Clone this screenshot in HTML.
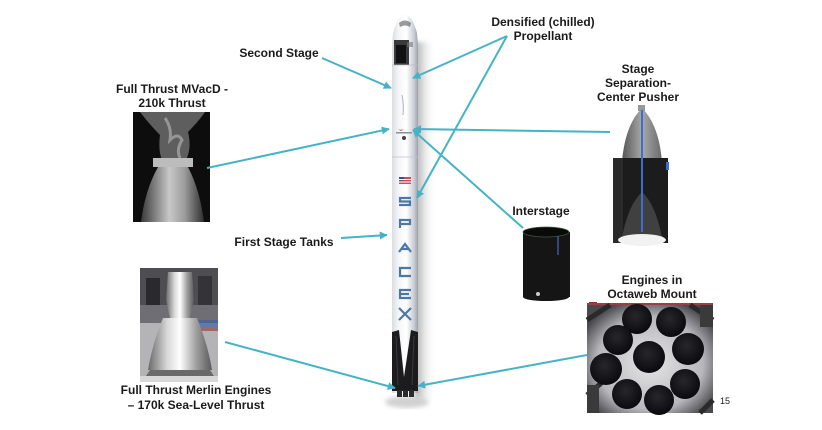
<!DOCTYPE html>
<html><head><meta charset="utf-8"><style>
html,body{margin:0;padding:0;background:#fff;}
svg{display:block;}
text{font-family:"Liberation Sans",Arial,sans-serif;font-weight:bold;fill:#1a1a1a;font-size:12px;}
</style></head><body>
<svg width="822" height="430" viewBox="0 0 822 430" xmlns="http://www.w3.org/2000/svg">
<defs>
<linearGradient id="body" x1="0" x2="1" y1="0" y2="0">
<stop offset="0" stop-color="#d9dce2"/><stop offset="0.25" stop-color="#f4f5f7"/><stop offset="0.55" stop-color="#ffffff"/><stop offset="0.85" stop-color="#c9ccd3"/><stop offset="1" stop-color="#9da1aa"/>
</linearGradient>
<linearGradient id="shadow" x1="0" x2="1" y1="0" y2="0">
<stop offset="0" stop-color="#999"/><stop offset="1" stop-color="#ffffff" stop-opacity="0"/>
</linearGradient>
<filter id="blur" x="-50%" y="-10%" width="200%" height="120%"><feGaussianBlur stdDeviation="2.5"/></filter>
<linearGradient id="nozzle" x1="0" x2="1" y1="0" y2="0">
<stop offset="0" stop-color="#3a3a3a"/><stop offset="0.45" stop-color="#c8c8c8"/><stop offset="0.7" stop-color="#9a9a9a"/><stop offset="1" stop-color="#2e2e2e"/>
</linearGradient>
<linearGradient id="cone" x1="0" x2="1" y1="0" y2="0">
<stop offset="0" stop-color="#555"/><stop offset="0.5" stop-color="#a9a9a9"/><stop offset="1" stop-color="#6a6a6a"/>
</linearGradient>
<linearGradient id="merlin" x1="0" x2="1" y1="0" y2="0">
<stop offset="0" stop-color="#6a6a6a"/><stop offset="0.3" stop-color="#d8d8d8"/><stop offset="0.5" stop-color="#ffffff"/><stop offset="0.75" stop-color="#a0a0a0"/><stop offset="1" stop-color="#5a5a5a"/>
</linearGradient>
<radialGradient id="eng" cx="0.45" cy="0.4" r="0.6">
<stop offset="0" stop-color="#26262c"/><stop offset="1" stop-color="#0a0a0e"/>
</radialGradient>
<radialGradient id="octbg" cx="0.5" cy="0.55" r="0.6">
<stop offset="0" stop-color="#e6e6e8"/><stop offset="0.7" stop-color="#b8b8bc"/><stop offset="1" stop-color="#4a4a4e"/>
</radialGradient>
<marker id="ah" viewBox="0 0 10 10" refX="9" refY="5" markerWidth="4" markerHeight="4" orient="auto">
<path d="M0,0 L10,5 L0,10 Z" fill="#45b3c6"/>
</marker>
</defs>

<!-- Rocket shadow -->
<rect x="415" y="42" width="20" height="356" fill="url(#shadow)" opacity="0.9" filter="url(#blur)"/>
<ellipse cx="407" cy="402" rx="22" ry="6" fill="#bdbdbd" opacity="0.7" filter="url(#blur)"/>

<!-- Rocket body -->
<rect x="392" y="43" width="26" height="350" fill="url(#body)"/>
<path d="M392,45 L393,33 Q398,15 405,14 Q412,15 417,33 L418,45 Z" fill="url(#body)"/>
<path d="M399,23 Q405,18 411,23 L410,27 Q405,24 400,27 Z" fill="#3a3a3a" opacity="0.5"/>
<rect x="394" y="40" width="15" height="25" fill="#3a3a3c"/>
<rect x="396" y="45" width="10" height="18" fill="#111"/>
<rect x="407" y="42" width="6" height="5" fill="#777" opacity="0.6"/>
<line x1="392" y1="65" x2="418" y2="65" stroke="#b8bcc4" stroke-width="0.8"/>
<line x1="392" y1="157" x2="418" y2="157" stroke="#c0c3ca" stroke-width="0.8"/>
<path d="M402,95 Q404,105 403,115" stroke="#b0b4bc" stroke-width="1" fill="none"/>
<path d="M396,128 Q400,131 404,129 L401,131 Z" fill="#d04050"/>
<rect x="396" y="132" width="16" height="1.5" fill="#8a8f9a"/>
<circle cx="404" cy="138" r="2" fill="#444"/>
<rect x="399" y="177" width="12" height="7" fill="#c4505a"/>
<rect x="399" y="177" width="5" height="3.5" fill="#3a4a8a"/>
<rect x="399" y="179" width="12" height="1" fill="#fff"/>
<rect x="399" y="181.5" width="12" height="1" fill="#fff"/>
<g fill="none" stroke="#4a78a8" stroke-width="2.2">
<path d="M411,198 L400,198 L400,201.5 L410,201.5 L410,205 L399,205"/>
<path d="M400,228 L400,220 L410,220 L410,224 L401,224"/>
<path d="M399,252 L405,244 L411,252 M402,249 L409,249"/>
<path d="M411,268 L400,268 L400,276 L411,276"/>
<path d="M411,290 L400,290 L400,298 L411,298 M400,294 L409,294"/>
<path d="M399,308 L411,320 M411,308 L399,320"/>
</g>
<path d="M392,332 L399,330 L404,377 L411,330 L418,332 L418,391 L392,391 Z" fill="#1c1c1e"/>
<path d="M396,336 L398,385" stroke="#3a3a3e" stroke-width="1"/>
<path d="M414,336 L412,385" stroke="#3a3a3e" stroke-width="1"/>
<rect x="397" y="390" width="5" height="7" fill="#2a2a2a"/>
<rect x="403" y="390" width="5" height="7" fill="#2a2a2a"/>
<rect x="409" y="390" width="5" height="7" fill="#2a2a2a"/>

<!-- MVacD image -->
<rect x="133" y="112" width="77" height="110" fill="#0d0d0d"/>
<path d="M140,112 Q150,125 160,135 Q158,150 162,160 L186,160 Q192,148 188,132 Q198,122 205,112 Z" fill="#7a7a7a" opacity="0.75"/>
<path d="M165,118 Q172,128 170,140 Q178,132 182,140 Q176,150 180,158" stroke="#bbb" stroke-width="3" fill="none" opacity="0.6"/>
<rect x="153" y="158" width="40" height="9" fill="#bcbcbc"/>
<path d="M158,167 L188,167 Q200,190 204,222 L141,222 Q145,190 158,167 Z" fill="url(#nozzle)"/>

<!-- Stage separation image -->
<path d="M642,108 Q625,125 622,162 L662,162 Q659,125 642,108 Z" fill="url(#cone)"/>
<rect x="638" y="105" width="7" height="6" fill="#999"/>
<rect x="613" y="158" width="55" height="85" fill="#1c1c1c"/>
<rect x="613" y="158" width="10" height="85" fill="#2a2a2a"/>
<path d="M622,238 Q628,205 642,192 Q656,205 662,238 Z" fill="#4a4a4a" opacity="0.8"/>
<ellipse cx="642" cy="240" rx="24" ry="6" fill="#f2f2f2"/>
<line x1="642" y1="110" x2="642" y2="232" stroke="#3a6fd0" stroke-width="2"/>
<rect x="666" y="162" width="3" height="8" fill="#3a6fd0"/>

<!-- Interstage image -->
<rect x="523" y="232" width="47" height="65" fill="#151515"/>
<ellipse cx="546" cy="232" rx="23" ry="5" fill="#0a0a0a" stroke="#3d5a3d" stroke-width="0.8"/>
<ellipse cx="546" cy="297" rx="23" ry="4" fill="#151515"/>
<line x1="558" y1="236" x2="558" y2="255" stroke="#3a5aa0" stroke-width="1.5"/>
<circle cx="538" cy="294" r="2" fill="#ccc"/>
<rect x="589" y="302" width="8" height="5" fill="#8a3030"/>

<!-- Merlin image -->
<rect x="140" y="268" width="78" height="114" fill="#b4b4b6"/>
<rect x="140" y="268" width="78" height="42" fill="#4d4d52"/>
<rect x="146" y="278" width="14" height="28" fill="#2a2a2e"/>
<rect x="198" y="276" width="14" height="30" fill="#333338"/>
<rect x="140" y="305" width="78" height="18" fill="#6e6e74"/>
<rect x="192" y="320" width="26" height="8" fill="#4060a0" opacity="0.7"/>
<rect x="192" y="328" width="26" height="3" fill="#9a3030" opacity="0.6"/>
<path d="M168,272 L192,272 L194,300 L190,318 L170,318 L166,300 Z" fill="url(#merlin)"/>
<path d="M163,318 L197,318 Q208,345 212,370 L148,370 Q152,345 163,318 Z" fill="url(#merlin)"/>
<path d="M150,370 L210,370 L214,376 L146,376 Z" fill="#6a6a6a"/>
<rect x="140" y="376" width="78" height="6" fill="#d8d8d8"/>

<!-- Octaweb image -->
<rect x="587" y="303" width="126" height="110" fill="url(#octbg)"/>
<rect x="587" y="303" width="126" height="2" fill="#9a4040"/>
<path d="M587,320 L610,305 M713,320 L690,305 M587,395 L605,380 M700,413 L713,400" stroke="#2a2a2a" stroke-width="5"/>
<rect x="587" y="385" width="12" height="28" fill="#3a3a3a"/>
<rect x="700" y="305" width="13" height="22" fill="#3a3a3a"/>
<g fill="url(#eng)">
<circle cx="637" cy="319" r="15"/>
<circle cx="671" cy="322" r="15"/>
<circle cx="618" cy="340" r="15"/>
<circle cx="688" cy="349" r="16"/>
<circle cx="649" cy="357" r="16"/>
<circle cx="606" cy="369" r="16"/>
<circle cx="685" cy="384" r="15"/>
<circle cx="627" cy="394" r="15"/>
<circle cx="659" cy="400" r="15"/>
</g>
<text x="725" y="404" text-anchor="middle" style="font-weight:normal;font-size:9px">15</text>

<!-- Connectors -->
<g stroke="#45b3c6" stroke-width="2" fill="none">
<line x1="322" y1="58" x2="391" y2="88" marker-end="url(#ah)"/>
<line x1="507" y1="36" x2="413" y2="78" marker-end="url(#ah)"/>
<line x1="507" y1="36" x2="417" y2="198" marker-end="url(#ah)"/>
<line x1="207" y1="168" x2="389" y2="129" marker-end="url(#ah)"/>
<line x1="610" y1="132" x2="414" y2="129" marker-end="url(#ah)"/>
<line x1="523" y1="228" x2="413" y2="130" marker-end="url(#ah)"/>
<line x1="341" y1="238" x2="387" y2="235" marker-end="url(#ah)"/>
<line x1="225" y1="342" x2="395" y2="388" marker-end="url(#ah)"/>
<line x1="587" y1="355" x2="418" y2="386" marker-end="url(#ah)"/>
</g>

<!-- Labels -->
<text x="172" y="93" text-anchor="middle">Full Thrust MVacD -</text>
<text x="172" y="107" text-anchor="middle">210k Thrust</text>
<text x="279" y="57" text-anchor="middle">Second Stage</text>
<text x="543" y="26" text-anchor="middle">Densified (chilled)</text>
<text x="543" y="40" text-anchor="middle">Propellant</text>
<text x="638" y="73" text-anchor="middle">Stage</text>
<text x="638" y="87" text-anchor="middle">Separation-</text>
<text x="638" y="101" text-anchor="middle">Center Pusher</text>
<text x="541" y="215" text-anchor="middle">Interstage</text>
<text x="284" y="246" text-anchor="middle">First Stage Tanks</text>
<text x="652" y="284" text-anchor="middle">Engines in</text>
<text x="652" y="298" text-anchor="middle">Octaweb Mount</text>
<text x="196" y="394" text-anchor="middle">Full Thrust Merlin Engines</text>
<text x="196" y="409" text-anchor="middle">– 170k Sea-Level Thrust</text>
</svg>
</body></html>
